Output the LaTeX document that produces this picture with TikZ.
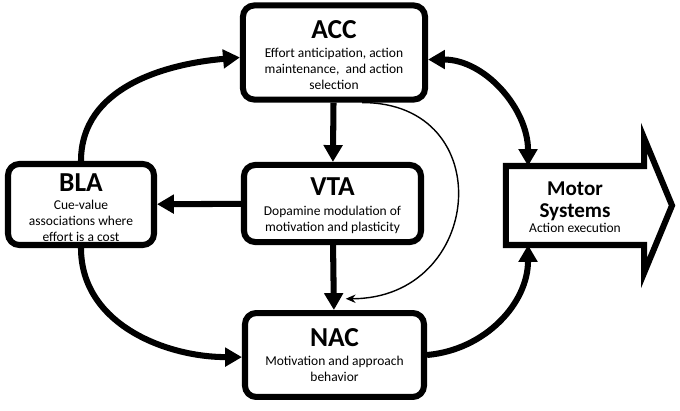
\documentclass[tikz,border=0pt]{standalone}
\usepackage{fontspec}
\setmainfont{Carlito}
\usetikzlibrary{arrows.meta}

\newcommand{\regname}[2]{{\fontsize{19.5}{21}\selectfont\bfseries\rule{0pt}{#1}#2}}
\newcommand{\regtext}{\normalfont\fontsize{9.6}{11.4}\selectfont}

\begin{document}
\begin{tikzpicture}[x=0.025cm, y=0.025cm, thick,
    region/.style = {draw, line width=4.3pt, rounded corners=8pt, align=center, inner sep=1pt, font=\regtext},
    motor/.style = {minimum width=98.2pt, minimum height=56.2pt, inner sep=0pt, outer sep=0pt, align=center,
        font=\fontsize{15}{15.4}\selectfont\bfseries},
    link/.style = {line width=4.3pt, -{Triangle[length=12pt,width=13pt]}},
    thinlink/.style = {line width=1pt, -{Stealth[length=7pt,width=6pt]}}]

    \useasboundingbox (0,0) rectangle (680,410);

    \node[region, minimum width=129.5pt, minimum height=66.9pt] (ACC) at (334,357.5)
        {\regname{16.6pt}{ACC}\\[2.5pt]Effort anticipation, action\\maintenance,\ \ and action\\selection};
    \node[region, minimum width=125.9pt, minimum height=54.8pt] (VTA) at (332.5,206.5)
        {\regname{16pt}{VTA}\\[2.5pt]Dopamine modulation of\\motivation and plasticity};
    \node[region, minimum width=127.3pt, minimum height=59.7pt] (NAC) at (334.5,55)
        {\regname{0pt}{NAC}\\[2.5pt]Motivation and approach\\behavior};
    \node[region, minimum width=103.8pt, minimum height=57.6pt] (BLA) at (81,205.5)
        {\regname{17pt}{BLA}\\[1pt]Cue-value\\associations where\\effort is a cost};
    \node[motor] (Motor) at (575,204.5)
        {\rule{0pt}{12pt}Motor\\Systems\\[-4.6pt]{\regtext Action execution}};

    % block arrow round the motor node
    \draw[line width=4.3pt, line join=miter] (Motor.north west) -- (Motor.north east) -- ++(0,28)
        -- ++(28,-67.5) -- ++(-28,-67.5) -- ++(0,28) -- (Motor.south west) -- cycle;

    \draw[link] (ACC) -- (VTA);
    \draw[link] (VTA) -- (NAC);
    \draw[link] (VTA) -- (BLA);
    \draw[link] (BLA.north) to [out=90,in=185] ([yshift=-3.5pt]ACC.west);
    \draw[link] (BLA.south) to [out=-90,in=180] ([yshift=-1.5pt]NAC.west);
    \draw[link, {Triangle[length=12pt,width=13pt]}-{Triangle[length=12pt,width=13pt]}] ([yshift=-5pt]ACC.east) to [out=0,in=90] ([xshift=-33.4pt]Motor.north);
    \draw[link] (NAC.east) to [out=5,in=-90] ([xshift=-33.4pt]Motor.south);
    \draw[thinlink] ([xshift=20pt]ACC.south) to [out=0,in=0,looseness=1.8] ([xshift=8pt,yshift=8pt]NAC.north);

\end{tikzpicture}
\end{document}
